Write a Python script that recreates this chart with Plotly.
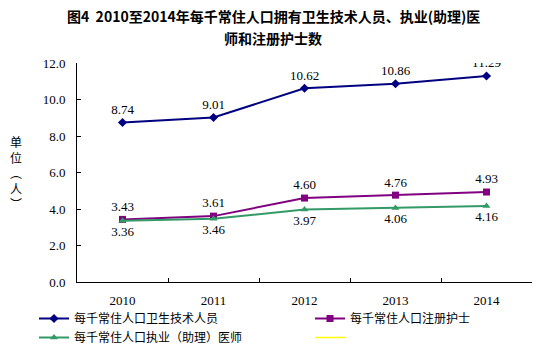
import plotly.graph_objects as go

years = ["2010", "2011", "2012", "2013", "2014"]
tech_staff = [8.74, 9.01, 10.62, 10.86, 11.29]
nurses = [3.43, 3.61, 4.60, 4.76, 4.93]
doctors = [3.36, 3.46, 3.97, 4.06, 4.16]

names = ["每千常住人口卫生技术人员", "每千常住人口注册护士", "每千常住人口执业（助理）医师"]
num_font = "Liberation Serif"
cjk_font = "Noto Sans CJK SC"

fig = go.Figure()
fig.add_trace(go.Scatter(
    x=years, y=tech_staff, name=names[0], mode="lines+markers+text", legend="legend",
    line=dict(color="#000080", width=2), marker=dict(symbol="diamond", size=7, color="#000080"),
    text=[f"{v:.2f}" for v in tech_staff], textposition="top center",
    textfont=dict(family=num_font, size=13, color="black"),
))
fig.add_trace(go.Scatter(
    x=years, y=nurses, name=names[1], mode="lines+markers+text", legend="legend2",
    line=dict(color="#800080", width=2), marker=dict(symbol="square", size=7, color="#800080"),
    text=[f"{v:.2f}" for v in nurses], textposition="top center",
    textfont=dict(family=num_font, size=13, color="black"),
))
fig.add_trace(go.Scatter(
    x=years, y=doctors, name=names[2], mode="lines+markers+text", legend="legend",
    line=dict(color="#339966", width=2), marker=dict(symbol="triangle-up", size=7, color="#339966"),
    text=[f"{v:.2f}" for v in doctors], textposition="bottom center",
    textfont=dict(family=num_font, size=13, color="black"),
))
fig.add_trace(go.Scatter(
    x=years, y=[None] * len(years), name=" ", mode="lines", legend="legend2",
    line=dict(color="#FFFF00", width=1.5), hoverinfo="skip",
))

legend_common = dict(
    orientation="v", xref="container", yref="container",
    xanchor="left", yanchor="top", itemwidth=30,
    font=dict(family=cjk_font, size=12, color="black"),
    traceorder="normal", bgcolor="rgba(0,0,0,0)", tracegroupgap=0,
)

fig.update_layout(
    width=560, height=360,
    margin=dict(l=77, r=28, t=63, b=78, autoexpand=False),
    paper_bgcolor="white", plot_bgcolor="white",
    showlegend=True,
    legend=dict(x=34 / 560, y=1 - 304 / 360, **legend_common),
    legend2=dict(x=310 / 560, y=1 - 304 / 360, **legend_common),
    font=dict(family=num_font, size=13, color="black"),
)
fig.update_xaxes(
    type="category", range=[-0.5, len(years) - 0.5], showline=True, linecolor="black", linewidth=1,
    ticks="inside", ticklen=4, tickcolor="black", tickson="boundaries",
    showgrid=False, tickfont=dict(family=num_font, size=13), ticklabelstandoff=6,
)
fig.update_yaxes(
    range=[0, 12], dtick=2, tickformat=".1f", showline=True, linecolor="black", linewidth=1,
    ticks="inside", ticklen=4, tickcolor="black", showgrid=False, zeroline=False,
    tickfont=dict(family=num_font, size=13), ticklabelstandoff=8,
)

fig.add_annotation(text="<b>图4  2010至2014年每千常住人口拥有卫生技术人员、执业(助理)医</b>",
                   xref="paper", yref="paper", x=(273 - 77) / 455, y=1 + (63 - 16) / 219,
                   showarrow=False, font=dict(family=cjk_font, size=14, color="black"),
                   xanchor="center", yanchor="middle")
fig.add_annotation(text="<b>师和注册护士数</b>",
                   xref="paper", yref="paper", x=(273 - 77) / 455, y=1 + (63 - 38) / 219,
                   showarrow=False, font=dict(family=cjk_font, size=14, color="black"),
                   xanchor="center", yanchor="middle")
fig.add_annotation(text="单<br>位<br>︵<br>人<br>︶",
                   xref="paper", yref="paper", x=(16 - 77) / 455, y=1 - (172 - 63) / 219,
                   showarrow=False, font=dict(family=cjk_font, size=12, color="black"),
                   xanchor="center", yanchor="middle")

fig.write_html("out.html", config={"displayModeBar": False},
               post_script="document.body.style.margin='0';")
